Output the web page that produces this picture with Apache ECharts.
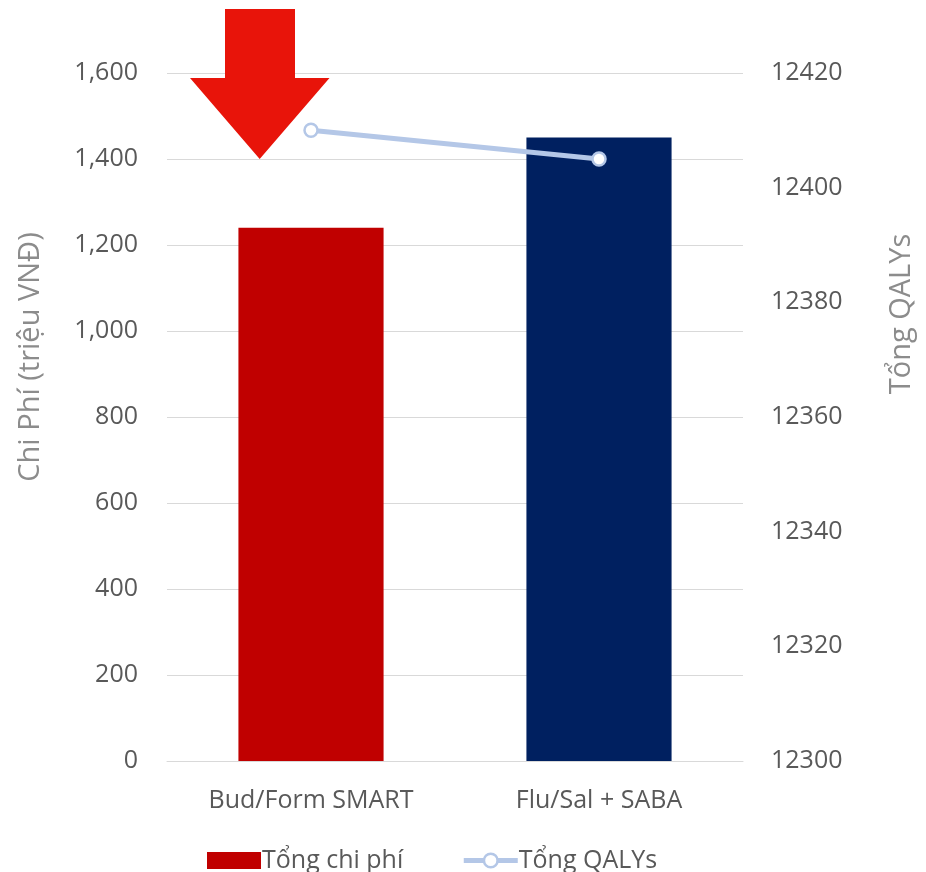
<!DOCTYPE html>
<html>
<head>
<meta charset="utf-8">
<script src="https://cdn.jsdelivr.net/npm/echarts@6/dist/echarts.min.js"></script>
<style>
  html, body { margin: 0; padding: 0; background: #ffffff; }
  #chart { width: 926px; height: 872px; }
</style>
</head>
<body>
<div id="chart"></div>
<script>
// Chart data
const categories = ['Bud/Form SMART', 'Flu/Sal + SABA'];
const totalCost = [1240, 1450];          // Tổng chi phí (triệu VNĐ)
const totalQALYs = [12410, 12405];       // Tổng QALYs
const barColors = ['#C00000', '#002060'];
const costTicks = { min: 0, max: 1600, interval: 200 };
const qalyTicks = { min: 12300, max: 12420, interval: 20 };

const FONT = "'Open Sans', 'Noto Sans', sans-serif";
const LABEL = '#595959';
const TITLE = '#8c8c8c';
const GRID = '#d9d9d9';
const LINE = '#B4C7E7';

const chart = echarts.init(document.getElementById('chart'), null, { renderer: 'canvas' });

chart.setOption({
  backgroundColor: '#ffffff',
  animation: false,
  textStyle: { fontFamily: FONT },
  grid: { left: 167, right: 183, top: 73, bottom: 111, containLabel: false },
  legend: {
    left: 202,
    top: 843,
    itemGap: 58,
    itemWidth: 54,
    itemHeight: 17,
    textStyle: { color: LABEL, fontSize: 25, fontFamily: FONT, padding: [0, 0, 0, -4] },
    data: [
      { name: 'Tổng chi phí', icon: 'rect', itemStyle: { color: '#C00000' } },
      {
        name: 'Tổng QALYs',
        itemStyle: { color: '#ffffff', borderColor: LINE, borderWidth: 2.5 },
        lineStyle: { color: LINE, width: 5 }
      }
    ]
  },
  xAxis: {
    type: 'category',
    data: categories,
    axisLine: { lineStyle: { color: GRID, width: 1 } },
    axisTick: { show: false },
    axisLabel: { color: LABEL, fontSize: 25, fontFamily: FONT, margin: 27 }
  },
  yAxis: [
    {
      type: 'value',
      min: costTicks.min, max: costTicks.max, interval: costTicks.interval,
      axisLine: { show: false },
      axisTick: { show: false },
      splitLine: { lineStyle: { color: GRID, width: 1 } },
      axisLabel: {
        color: LABEL, fontSize: 25, fontFamily: FONT, margin: 29,
        formatter: v => v.toLocaleString('en-US')
      }
    },
    {
      type: 'value',
      min: qalyTicks.min, max: qalyTicks.max, interval: qalyTicks.interval,
      axisLine: { show: false },
      axisTick: { show: false },
      splitLine: { show: false },
      axisLabel: { color: LABEL, fontSize: 25, fontFamily: FONT, margin: 28, formatter: v => String(v) }
    }
  ],
  series: [
    {
      name: 'Tổng chi phí',
      type: 'bar',
      yAxisIndex: 0,
      barCategoryGap: '49.6%',
      data: totalCost.map((v, i) => ({ value: v, itemStyle: { color: barColors[i] } })),
      itemStyle: { color: '#C00000' },
      z: 2
    },
    {
      name: 'Tổng QALYs',
      type: 'line',
      yAxisIndex: 1,
      data: totalQALYs,
      symbol: 'circle',
      symbolSize: 13,
      showSymbol: true,
      lineStyle: { color: LINE, width: 5 },
      itemStyle: { color: '#ffffff', borderColor: LINE, borderWidth: 2.5 },
      emphasis: { disabled: true },
      z: 3
    }
  ],
  graphic: [
    // Red down arrow pointing at the lower-cost option
    {
      type: 'polygon',
      z: 10,
      shape: {
        points: [[225, 9], [295, 9], [295, 78], [329.5, 78], [259.7, 159], [190, 78], [225, 78]]
      },
      style: { fill: '#E8140A' }
    },
    {
      type: 'text',
      x: 31, y: 357,
      rotation: Math.PI / 2,
      style: {
        text: 'Chi Phí (triệu VNĐ)',
        fill: TITLE, font: '29px ' + FONT,
        align: 'center', verticalAlign: 'middle'
      }
    },
    {
      type: 'text',
      x: 902, y: 314,
      rotation: Math.PI / 2,
      style: {
        text: 'Tổng QALYs',
        fill: TITLE, font: '29px ' + FONT,
        align: 'center', verticalAlign: 'middle'
      }
    }
  ]
});
</script>
</body>
</html>
